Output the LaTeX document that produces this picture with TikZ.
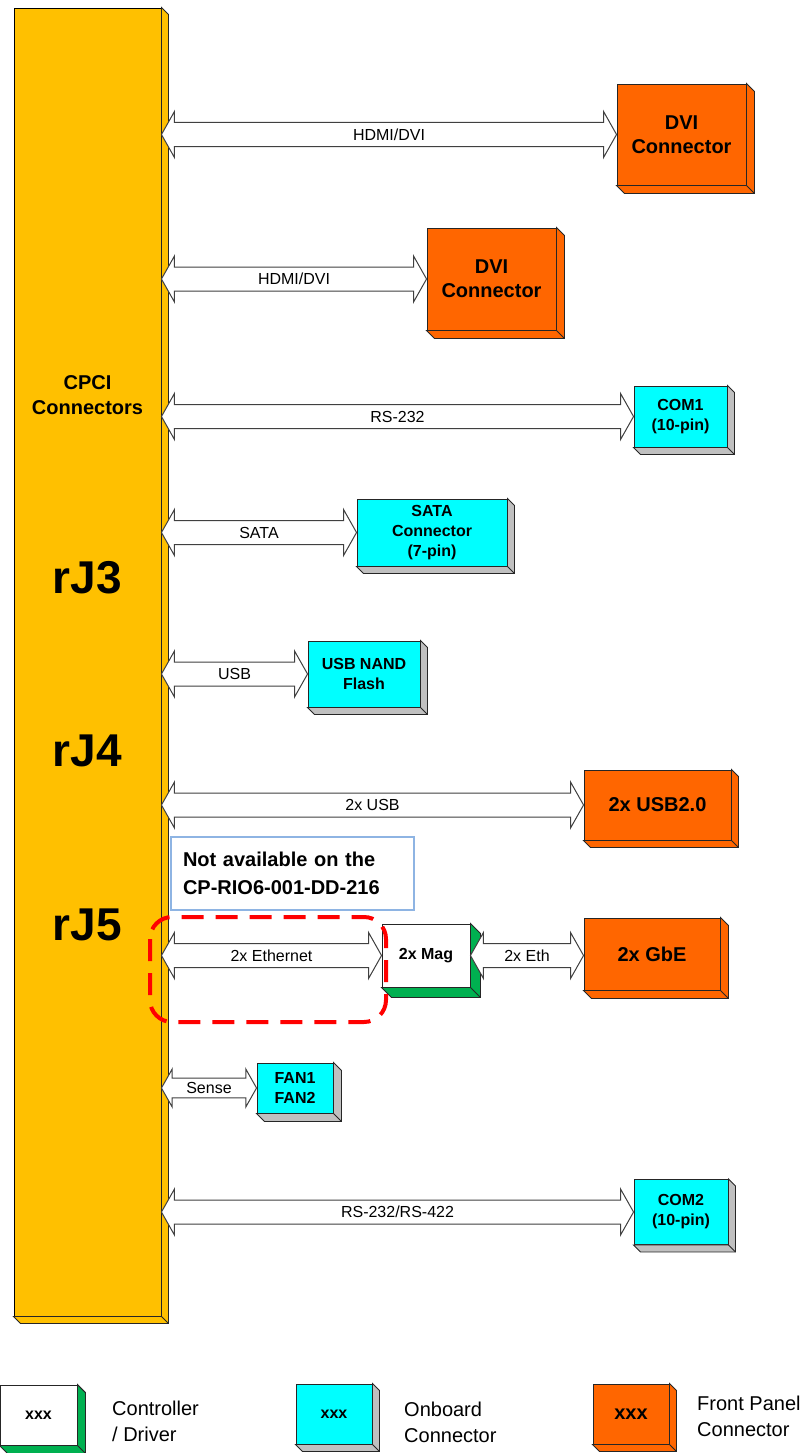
\documentclass[tikz,border=0pt]{standalone}
\usepackage{fontspec}
\setmainfont{Liberation Sans}
\usetikzlibrary{calc}
\definecolor{cpciyellow}{HTML}{FFC000}
\definecolor{panelorange}{HTML}{FF6600}
\definecolor{boardcyan}{HTML}{00FFFF}
\definecolor{ctrlgreen}{HTML}{00B050}
\definecolor{sidegray}{HTML}{C0C0C0}
\definecolor{noteblue}{HTML}{8EB4E3}
\tikzset{
    boxedge/.style = {draw=black!85, line width=0.9pt},
    panel/.style = {rectangle, boxedge, fill=panelorange, inner sep=0pt, align=center, font=\bfseries\fontsize{20}{24}\selectfont},
    onboard/.style = {rectangle, boxedge, fill=boardcyan, inner sep=0pt, align=center, font=\bfseries\fontsize{16}{20}\selectfont},
    controller/.style = {rectangle, boxedge, fill=white, inner sep=0pt, align=center, font=\bfseries\fontsize{16}{19}\selectfont},
    busline/.style = {draw=black!75, fill=white, line width=1pt},
    buslabel/.style = {font=\fontsize{16}{19}\selectfont},
    legendtext/.style = {anchor=west, align=left, inner sep=0pt, font=\fontsize{20}{26}\selectfont},
    bigtag/.style = {font=\bfseries\fontsize{46}{50}\selectfont}
}
% side and bottom faces of a box
\newcommand{\extrude}[3]{%
  \draw[boxedge, fill=#2] (#1.north east) -- ++(#3,#3) -- ($(#1.south east)+(#3,#3)$)
      -- ($(#1.south west)+(#3,#3)$) -- (#1.south west) -- (#1.south east) -- cycle;
  \draw[boxedge] (#1.south east) -- ++(#3,#3);
}
% double headed bus arrow
\newcommand{\bus}[4][1]{%
  \draw[busline] (#2) -- ++({13*#1},{-23*#1}) -- ++(0,{11*#1}) -- ($(#3)+({-13*#1},{-12*#1})$)
      -- ++(0,{-11*#1}) -- (#3) -- ++({-13*#1},{23*#1}) -- ++(0,{-11*#1})
      -- ($(#2)+({13*#1},{12*#1})$) -- ++(0,{11*#1}) -- cycle;
  \node[buslabel] at ($(#2)!0.5!(#3)$) {#4};
}

\begin{document}
\begin{tikzpicture}[x=1pt, y=-1pt]
\useasboundingbox (0,0) rectangle (811,1453);

% CPCI connector bar
\node[rectangle, draw=black, line width=0.9pt, fill=cpciyellow, minimum width=147, minimum height=1308] (cpci) at (87.5,662) {};
\extrude{cpci}{cpciyellow}{7}
\node[font=\bfseries\fontsize{20}{25}\selectfont, align=center] (cpcilabel) at (87.5,395) {CPCI\\Connectors};
\node[bigtag] (rjthree) at (87.5,578) {rJ3};
\node[bigtag] (rjfour) at (87.5,751) {rJ4};
\node[bigtag] (rjfive) at (87.5,925) {rJ5};

% Front panel and onboard connectors
\node[panel, minimum width=129, minimum height=101] (dvia) at (681.5,134.5) {DVI\\Connector};
\extrude{dvia}{panelorange}{8}
\node[panel, minimum width=129, minimum height=102] (dvib) at (491.5,279) {DVI\\Connector};
\extrude{dvib}{panelorange}{8}
\node[onboard, minimum width=93, minimum height=61] (com1) at (680.5,416.5) {COM1\\(10-pin)};
\extrude{com1}{sidegray}{7}
\node[onboard, minimum width=150, minimum height=67] (sata) at (432,532.5) {SATA\\Connector\\(7-pin)};
\extrude{sata}{sidegray}{7}
\node[onboard, minimum width=112, minimum height=66] (nand) at (364,674) {USB NAND\\Flash};
\extrude{nand}{sidegray}{7}
\node[panel, minimum width=147, minimum height=70] (usbtwo) at (657.5,805) {2x USB2.0};
\extrude{usbtwo}{panelorange}{7}
\node[controller, minimum width=88, minimum height=63] (mag) at (426,955.5) {2x Mag};
\extrude{mag}{ctrlgreen}{10}
\node[panel, minimum width=136, minimum height=72] (gbe) at (652,954) {2x GbE};
\extrude{gbe}{panelorange}{8}
\node[onboard, minimum width=76, minimum height=50] (fan) at (295,1088) {FAN1\\FAN2};
\extrude{fan}{sidegray}{8}
\node[onboard, minimum width=94, minimum height=65] (com2) at (681,1212) {COM2\\(10-pin)};
\extrude{com2}{sidegray}{7}

% Buses
\bus{cpci.east |- dvia.west}{dvia.west}{HDMI/DVI}
\bus{cpci.east |- dvib.west}{dvib.west}{HDMI/DVI}
\bus{cpci.east |- com1.west}{com1.west}{RS-232}
\bus{cpci.east |- sata.west}{sata.west}{SATA}
\bus{cpci.east |- nand.west}{nand.west}{USB}
\bus{cpci.east |- usbtwo.west}{usbtwo.west}{2x USB}
\bus{cpci.east |- mag.west}{mag.west}{2x Ethernet}
\bus{mag.east}{gbe.west |- mag.east}{2x Eth}
\bus[0.83]{cpci.east |- fan.west}{fan.west}{Sense}
\bus{cpci.east |- com2.west}{com2.west}{RS-232/RS-422}

% Note
\node[draw=noteblue, line width=1.5pt, fill=white, minimum width=243, minimum height=73, text width=219, inner xsep=12, align=left, font=\bfseries\fontsize{20}{28}\selectfont] (note) at (292.5,873.5) {Not available on the\\CP-RIO6-001-DD-216};
\draw[red, line width=4pt, dash pattern=on 22pt off 12pt, rounded corners=22pt] (150,917) rectangle (386,1022);

% Legend
\node[controller, minimum width=77, minimum height=60] (keyctrl) at (38.5,1415) {xxx};
\extrude{keyctrl}{ctrlgreen}{8}
\node[legendtext] (keyctrltext) at (112,1421) {Controller\\/ Driver};
\node[onboard, minimum width=76, minimum height=60] (keyboard) at (334,1414) {xxx};
\extrude{keyboard}{sidegray}{7}
\node[legendtext] (keyboardtext) at (404,1422) {Onboard\\Connector};
\node[panel, minimum width=76, minimum height=60] (keypanel) at (631,1414) {xxx};
\extrude{keypanel}{panelorange}{7}
\node[legendtext] (keypaneltext) at (697,1416) {Front Panel\\Connector};
\end{tikzpicture}
\end{document}
